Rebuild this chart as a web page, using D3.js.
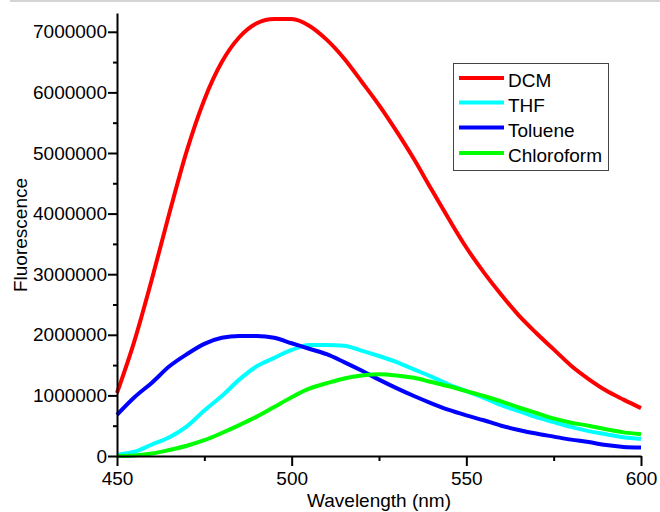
<!DOCTYPE html>
<html>
<head>
<meta charset="utf-8">
<script src="https://cdn.jsdelivr.net/npm/d3@7"></script>
<style>
  html, body { margin: 0; padding: 0; background: #fff; }
  svg { display: block; font-family: "Liberation Sans", Arial, Helvetica, sans-serif; }
</style>
</head>
<body>
<svg id="chart" width="660" height="512"></svg>
<script>
// ---- Data (values in units of 1,000,000 counts) ----
const wavelengths = [450,455,460,465,470,475,480,485,490,495,500,505,510,515,520,525,530,535,540,545,550,555,560,565,570,575,580,585,590,595,600];
const seriesNames = ["DCM", "THF", "Toluene", "Chloroform"];
const dcm = [1.04,1.90,2.92,4.01,5.04,5.88,6.50,6.91,7.14,7.21,7.21,7.10,6.87,6.56,6.18,5.79,5.36,4.90,4.40,3.91,3.44,3.03,2.66,2.32,2.03,1.76,1.49,1.27,1.08,0.93,0.79];
const thf = [0.02,0.07,0.19,0.31,0.49,0.75,0.99,1.26,1.48,1.62,1.75,1.83,1.83,1.82,1.74,1.65,1.55,1.43,1.31,1.18,1.07,0.96,0.84,0.74,0.64,0.56,0.48,0.41,0.36,0.31,0.28];
const toluene = [0.68,0.97,1.21,1.48,1.68,1.85,1.95,1.98,1.98,1.95,1.86,1.77,1.68,1.55,1.41,1.26,1.12,0.99,0.87,0.76,0.67,0.59,0.50,0.43,0.37,0.32,0.27,0.23,0.18,0.15,0.14];
const chloroform = [0.00,0.01,0.04,0.10,0.17,0.26,0.38,0.51,0.65,0.81,0.97,1.11,1.20,1.28,1.33,1.35,1.33,1.29,1.22,1.15,1.07,0.99,0.90,0.80,0.71,0.62,0.55,0.50,0.44,0.39,0.36];
const xTicks = [450, 500, 550, 600];
const xMinorTicks = [475, 525, 575];
const yTicks = [0,1000000,2000000,3000000,4000000,5000000,6000000,7000000];
const yMinorTicks = [500000,1500000,2500000,3500000,4500000,5500000,6500000];
const xTitle = "Wavelength (nm)";
const yTitle = "Fluorescence";

const colors = ["#ff0000", "#00ffff", "#0000ff", "#00ff00"];
const seriesValues = [dcm, thf, toluene, chloroform];

// ---- Layout ----
const svg = d3.select("#chart");
const x = d3.scaleLinear().domain([450, 600]).range([117, 641]);
const y = d3.scaleLinear().domain([0, 7310000]).range([456, 13]);

// top gray rule
svg.append("line").attr("x1", 10).attr("x2", 660).attr("y1", 1).attr("y2", 1)
  .attr("stroke", "#d4d4d4").attr("stroke-width", 2);

// curves
const line = d3.line()
  .x(d => x(d[0]))
  .y(d => y(d[1] * 1e6))
  .curve(d3.curveMonotoneX);

seriesValues.forEach((vals, i) => {
  const pts = wavelengths.map((w, j) => [w, vals[j]]);
  svg.append("path").datum(pts)
    .attr("d", line)
    .attr("fill", "none")
    .attr("stroke", colors[i])
    .attr("stroke-width", 4)
    .attr("stroke-linejoin", "round");
});

// axes
const fmt = d3.format("d");
const gx = svg.append("g").attr("transform", "translate(0,456)")
  .call(d3.axisBottom(x).tickValues(xTicks).tickSize(10).tickSizeOuter(0).tickPadding(6).tickFormat(fmt));
const gxm = svg.append("g").attr("transform", "translate(0,456)")
  .call(d3.axisBottom(x).tickValues(xMinorTicks).tickSize(5).tickSizeOuter(0).tickFormat(""));
const gy = svg.append("g").attr("transform", "translate(117,0)")
  .call(d3.axisLeft(y).tickValues(yTicks).tickSize(9).tickSizeOuter(0).tickPadding(1).tickFormat(fmt));
const gym = svg.append("g").attr("transform", "translate(117,0)")
  .call(d3.axisLeft(y).tickValues(yMinorTicks).tickSize(4).tickSizeOuter(0).tickFormat(""));

[gx, gxm, gy, gym].forEach(g => {
  g.selectAll(".domain").attr("stroke", "#000").attr("stroke-width", 2);
  g.selectAll(".tick line").attr("stroke", "#000").attr("stroke-width", 2);
  g.selectAll("text").attr("fill", "#000").attr("font-size", 19)
    .attr("font-family", "'Liberation Sans', Arial, sans-serif");
});
gxm.select(".domain").remove();
gym.select(".domain").remove();

// axis titles
svg.append("text").attr("x", 379).attr("y", 507).attr("text-anchor", "middle")
  .attr("font-size", 19).attr("fill", "#000").text(xTitle);
svg.append("text").attr("transform", "translate(27,235) rotate(-90)").attr("text-anchor", "middle")
  .attr("font-size", 19).attr("fill", "#000").text(yTitle);

// legend
const lg = svg.append("g");
lg.append("rect").attr("x", 453.5).attr("y", 63.5).attr("width", 155).attr("height", 107)
  .attr("fill", "#fff").attr("stroke", "#444").attr("stroke-width", 1);
const rowY = [78, 102.5, 127.5, 153];
seriesNames.forEach((name, i) => {
  lg.append("line").attr("x1", 459).attr("x2", 504).attr("y1", rowY[i]).attr("y2", rowY[i])
    .attr("stroke", colors[i]).attr("stroke-width", 4);
  lg.append("text").attr("x", 508).attr("y", rowY[i] + 9)
    .attr("font-size", 19).attr("fill", "#000").text(name);
});
</script>
</body>
</html>
